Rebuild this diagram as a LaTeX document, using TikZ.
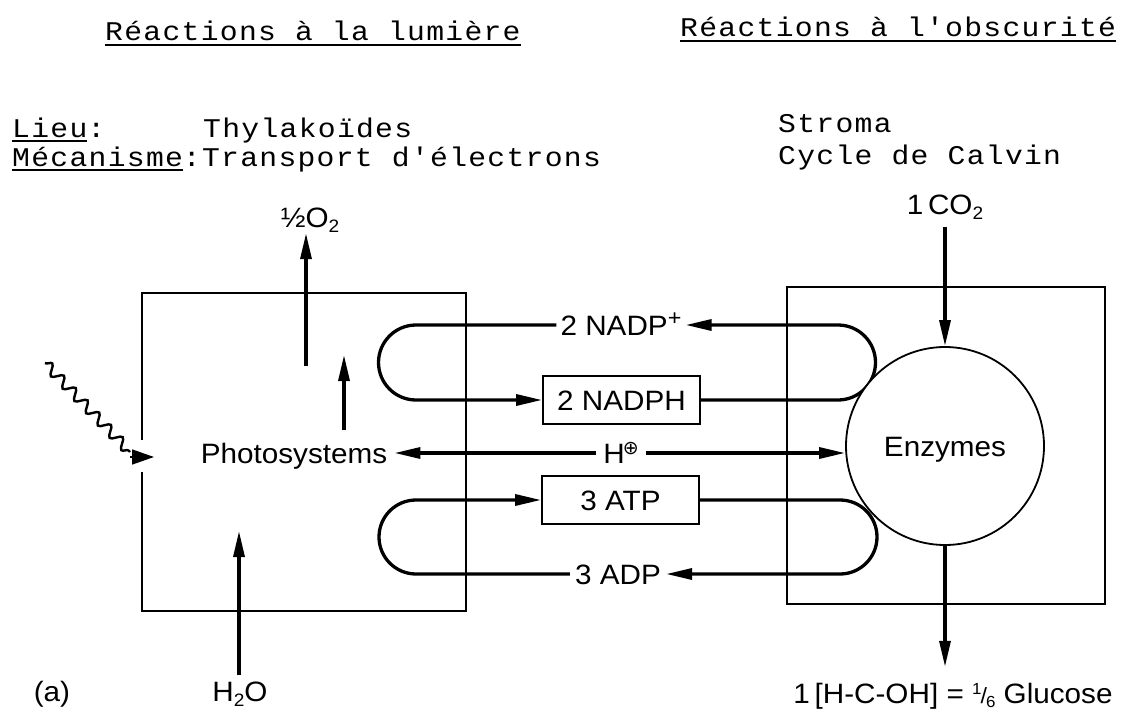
\documentclass[tikz,border=0pt]{standalone}
\usepackage{fontspec}
\setmainfont{Liberation Sans}[FakeStretch=1.06]
\newfontfamily\twfont{Liberation Mono}[FakeStretch=1.1,LetterSpace=4.8]
\newfontfamily\djv{DejaVu Sans}
\usetikzlibrary{arrows.meta,decorations.pathmorphing}
\newcommand\myul[1]{\setbox0\hbox{#1}\rlap{\rule[-5pt]{\wd0}{1.6pt}}\box0}
\newcommand\subsz[1]{\raisebox{-5pt}{\fontsize{18}{18}\selectfont #1}}
\tikzset{
  lbl/.style={inner sep=0pt, text height=20pt, text depth=0pt, font=\fontsize{28}{32}\selectfont},
  boxed/.style={lbl, draw, line width=1.8pt, minimum width=157pt, minimum height=48pt},
  conn/.style={line width=3.3pt},
  thinline/.style={line width=1.8pt},
  twtext/.style={font=\twfont\fontsize{27}{31}\selectfont, inner sep=0pt, anchor=base west},
  >={Triangle[length=26pt,width=11pt]}
}
\begin{document}
\begin{tikzpicture}[x=1pt,y=-1pt]
\useasboundingbox (0,0) rectangle (1121,709);
% headers
\node[twtext] (h1) at (105,41) {\myul{Réactions à la lumière}};
\node[twtext] (h2) at (680,37) {\myul{Réactions à l'obscurité}};
\node[twtext] (lieu) at (12,137) {\myul{Lieu}:};
\node[twtext] (thy) at (203,137) {Thylakoïdes};
\node[twtext] (meca) at (12,166) {\myul{Mécanisme}:Transport d'électrons};
\node[twtext] (stroma) at (778,132) {Stroma};
\node[twtext] (calvin) at (778,164) {Cycle de Calvin};
% boxes
\draw[thinline] (142,440) -- (142,293) -- (466,293) -- (466,611) -- (142,611) -- (142,472);
\draw[thinline] (787,287) rectangle (1105,604);
% nodes
\node[lbl, inner xsep=7pt] (photo) at (294,453) {Photosystems};
\node[boxed] (nadph) at (621.5,400) {2 NADPH};
\node[boxed] (atp) at (620.5,500) {3 ATP};
\node[lbl, inner xsep=4pt] (nadp) at (621,325) {2 NADP\raisebox{10pt}{\fontsize{22}{22}\selectfont +}};
\node[lbl, inner xsep=7pt] (hplus) at (621,453) {H\kern-2pt\raisebox{9pt}{\djv\fontsize{19}{19}\selectfont ⊕}};
\node[lbl, inner xsep=5pt] (adp) at (618,574) {3 ADP};
\node[lbl] (o2) at (310,217) {½O\subsz{2}};
\node[lbl] (co2) at (945,204) {1\,CO\subsz{2}};
\node[lbl] (h2o) at (240,691) {H\subsz{2}O};
\node[lbl] (a) at (52,691) {(a)};
\node[lbl] (gluc) at (953,693) {1\,[H-C-OH] = \raisebox{9pt}{\fontsize{16}{16}\selectfont 1}\kern-1pt{\fontsize{22}{22}\selectfont /}\kern-1pt\raisebox{-4pt}{\fontsize{16}{16}\selectfont 6} Glucose};
% loops
\draw[conn,->] (nadp.west) -- (416,325) arc[start angle=270,end angle=90,radius=37.5] -- (nadph.west);
\draw[conn,->] (nadph.east) -- (838,400) arc[start angle=90,end angle=-90,radius=37.5] -- (nadp.east);
\draw[conn,->] (adp.west) -- (416,574) arc[start angle=90,end angle=270,radius=37] -- (atp.west);
\draw[conn,->] (atp.east) -- (840,500) arc[start angle=-90,end angle=90,radius=37] -- (adp.east);
% enzymes circle
\node[lbl, draw, circle, thinline, fill=white, minimum size=198pt, text height=20pt] (enz) at (945,446) {Enzymes};
% H+
\draw[conn,->] (hplus.west) -- (photo.east);
\draw[conn,->] (hplus.east) -- (hplus.east -| enz.west);
% vertical arrows
\coordinate (o2s) at (306,366);
\coordinate (ups) at (344,430);
\coordinate (upe) at (344,355);
\coordinate (h2oe) at (239,531);
\draw[conn,->,shorten >=6pt] (o2s) -- (o2s |- o2.south);
\draw[conn,->] (ups) -- (upe);
\draw[conn,->,shorten <=6pt] (h2oe |- h2o.north) -- (h2oe);
\draw[conn,->,shorten <=13pt] (co2.south -| enz.north) -- (enz.north);
\draw[conn,->,shorten >=16pt] (enz.south) -- (enz.south |- gluc.north);
% light
\coordinate (w0) at (45,363);
\coordinate (w1) at (130,452);
\coordinate (wt) at (154,457);
\draw[line width=2.4pt, decorate, decoration={snake, segment length=17pt, amplitude=5pt}] (w0) -- (w1);
\draw[line width=1.5pt, -{Triangle[length=22pt,width=15pt]}] (w1 |- wt) -- (wt);
\end{tikzpicture}
\end{document}
